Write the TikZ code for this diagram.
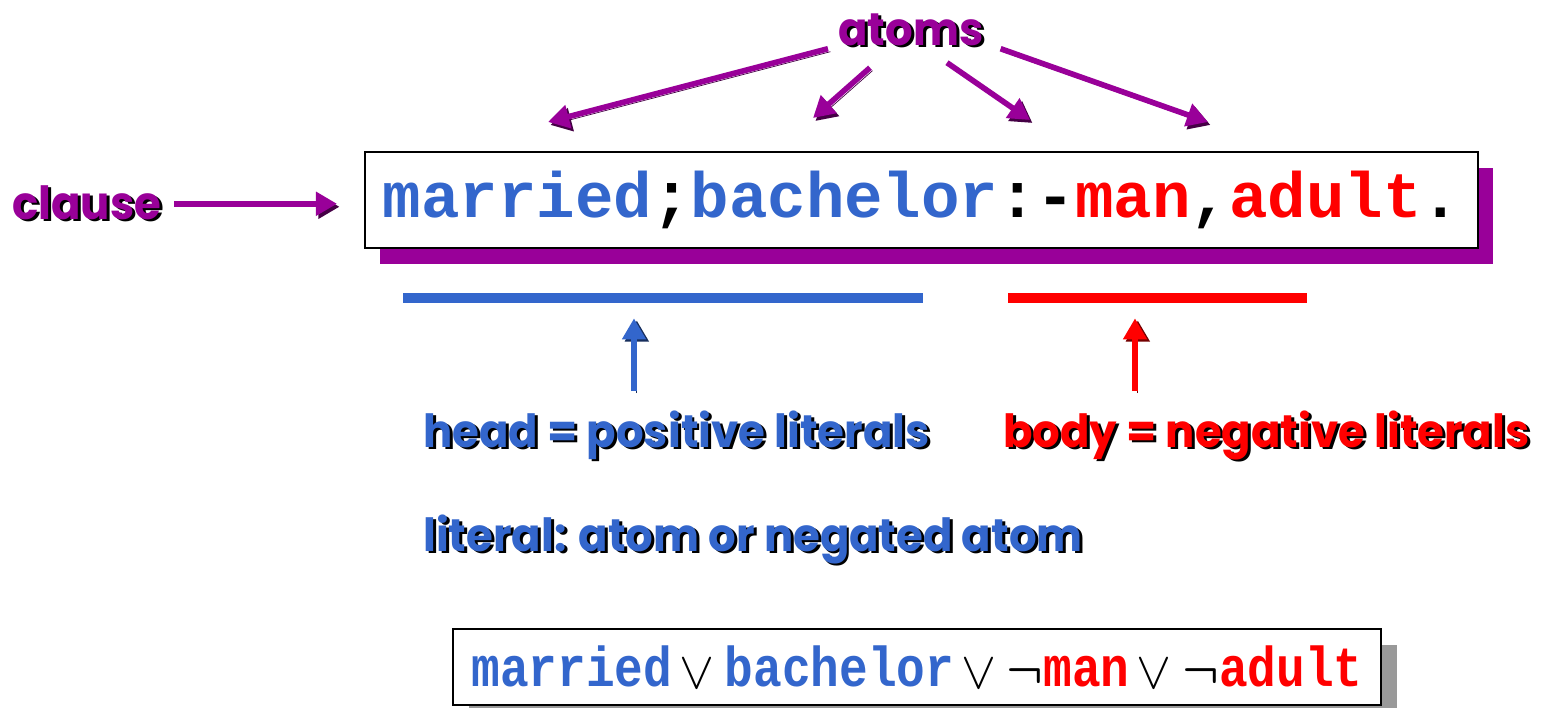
\documentclass[tikz,border=0pt]{standalone}
\usepackage{fontspec}
\setmonofont{Liberation Mono}
\newfontfamily\labelfont[FakeStretch=0.95]{Poppins}
\newfontfamily\orfont[FakeStretch=0.85]{Liberation Mono}
\definecolor{atompurple}{RGB}{153,0,153}
\definecolor{headblue}{RGB}{51,102,204}
\definecolor{bodyred}{RGB}{255,0,0}
\definecolor{shadegray}{RGB}{153,153,153}
\newcommand{\shadowed}[2]{\rlap{\kern1.7pt\raisebox{-1.7pt}{\color{black}#2}}{\color{#1}#2}}
\newcommand{\orsym}{\hspace{4pt}\raisebox{-1pt}{\scalebox{1.2}{$\vee$}}\hspace{6pt}}
\newcommand{\notsym}{\scalebox{1.1}{\boldmath$\neg$}}
\usetikzlibrary{arrows.meta,shadows}

\begin{document}
\begin{tikzpicture}[x=0.02cm,y=-0.02cm,>=Stealth,
    tag/.style={inner sep=0pt,anchor=base west,font=\labelfont\bfseries\fontsize{26}{30}\selectfont},
    pointer/.style={line width=3.2pt,-{Triangle[length=12pt,width=13pt]}},
    purplearrow/.style={pointer,atompurple,preaction={draw=atompurple!45!black,transform canvas={shift={(1.4pt,-1.7pt)}}}},
    bluearrow/.style={pointer,headblue,preaction={draw=headblue!45!black,transform canvas={shift={(1.6pt,-1.2pt)}}}},
    redarrow/.style={pointer,bodyred,preaction={draw=bodyred!45!black,transform canvas={shift={(1.6pt,-1.2pt)}}}}]
  \useasboundingbox (0,0) rectangle (1552,707);
  %% Labels
  \node[tag] (atoms) at (838,45) {\shadowed{atompurple}{atoms}};
  \node[tag] (clause) at (12,219) {\shadowed{atompurple}{clause}};
  \node[tag] (head) at (423,447) {\shadowed{headblue}{head = positive literals}};
  \node[tag] (body) at (1003,447) {\shadowed{bodyred}{body = negative literals}};
  \node[tag] (literal) at (423,551) {\shadowed{headblue}{literal: atom or negated atom}};
  %% Clause in Prolog form
  \node[draw,line width=1.2pt,fill=white,inner sep=0pt,
        minimum width=22.26cm,minimum height=1.92cm,
        drop shadow={shadow xshift=0.3cm,shadow yshift=-0.32cm,fill=atompurple,opacity=1},
        font=\fontsize{36.5}{40}\selectfont\ttfamily\bfseries]
        (horn) at (921.5,200)
        {{\color{headblue}married};{\color{headblue}bachelor}:-{\color{bodyred}man},{\color{bodyred}adult}.};
  %% Head and body bars
  \node[fill=headblue,inner sep=0pt,minimum width=10.4cm,minimum height=0.2cm] (headbar) at (663,298) {};
  \node[fill=bodyred,inner sep=0pt,minimum width=5.98cm,minimum height=0.2cm] (bodybar) at (1157.5,298) {};
  %% Clause as disjunction
  \node[draw,line width=1.4pt,fill=white,inner sep=0pt,
        minimum width=18.56cm,minimum height=1.52cm,
        drop shadow={shadow xshift=0.32cm,shadow yshift=-0.32cm,fill=shadegray,opacity=1},
        font=\fontsize{32}{36}\selectfont\orfont\bfseries]
        (disj) at (917,667)
        {{\color{headblue}married}\orsym{\color{headblue}bachelor}\orsym\notsym{\color{bodyred}man}\orsym\notsym{\color{bodyred}adult}};
  %% Arrows to the atoms
  \coordinate (a1) at (548,122);
  \coordinate (a2) at (813,118);
  \coordinate (a3) at (1030,120);
  \coordinate (a4) at (1208,122);
  \draw[purplearrow] ([shift={(-10,0)}]atoms.south west) -- (a1);
  \draw[purplearrow] ([shift={(32,19)}]atoms.south west) -- (a2);
  \draw[purplearrow] ([shift={(109,14)}]atoms.south west) -- (a3);
  \draw[purplearrow] ([shift={(17,0)}]atoms.south east) -- (a4);
  %% Clause pointer
  \draw[purplearrow,shorten <=0.26cm,shorten >=0.54cm] (clause.east) -- (clause.east -| horn.west);
  %% Head and body pointers
  \draw[bluearrow,shorten <=0.38cm,shorten >=0.3cm] (head.north -| 634,0) -- (headbar.south -| 634,0);
  \draw[redarrow,shorten <=0.38cm,shorten >=0.3cm] (body.north -| 1135,0) -- (bodybar.south -| 1135,0);
\end{tikzpicture}
\end{document}
